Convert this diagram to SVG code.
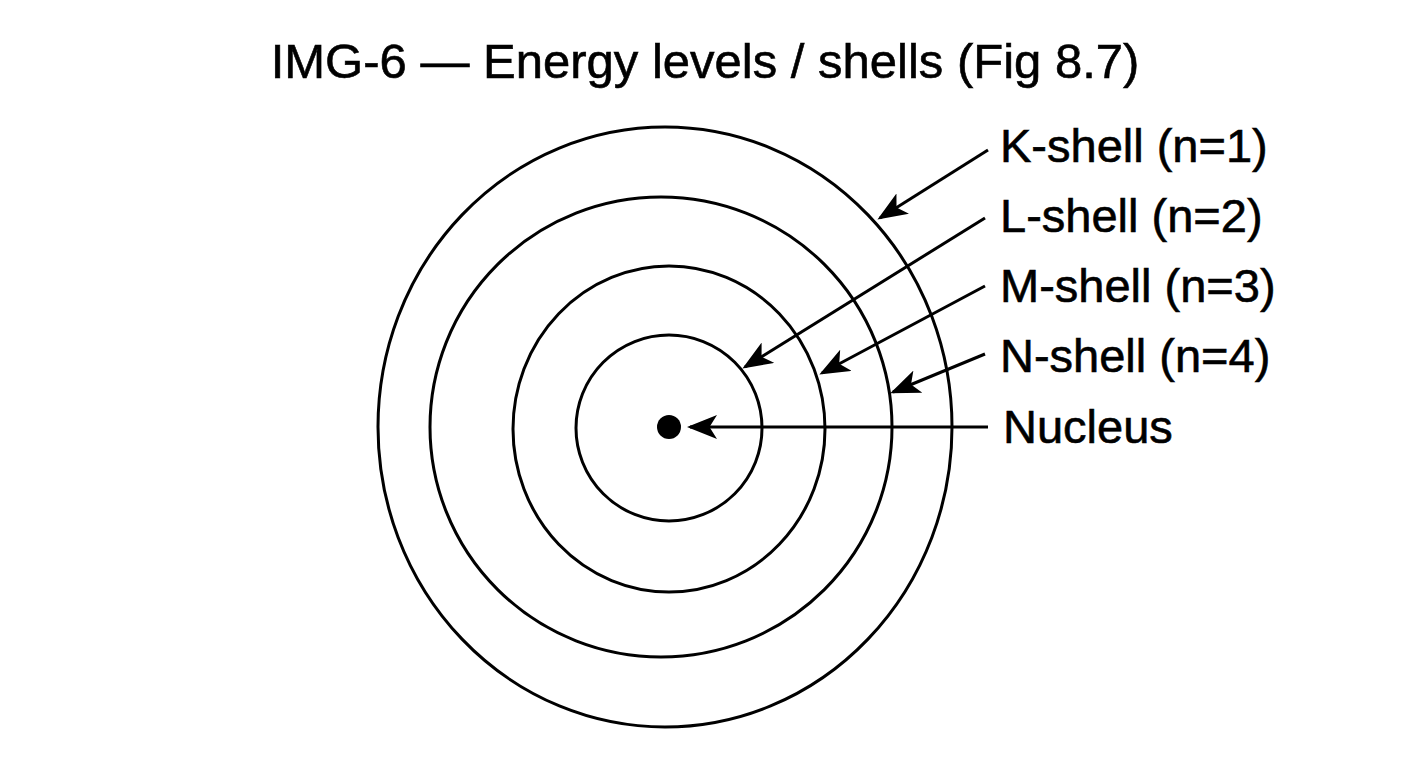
<svg xmlns="http://www.w3.org/2000/svg" width="1408" height="768" viewBox="0 0 1408 768">
<defs>
<style>
.s{fill:none;stroke:#000;stroke-width:3}
.t{font-family:"Liberation Sans",Arial,sans-serif;font-size:47px;fill:#000;stroke:#000;stroke-width:0.6}
.c{stroke:#000;stroke-width:3;fill:none;marker-end:url(#a)}
</style>
<marker id="a" markerWidth="10" markerHeight="8" refX="9" refY="4" orient="auto" markerUnits="strokeWidth">
<path d="M0,0 L10,4 L0,8 L2.5,4 Z" fill="#000"/>
</marker>
</defs>
<rect width="1408" height="768" fill="#fff"/>
<text x="705" y="78" text-anchor="middle" class="t" style="font-size:49px">IMG-6 — Energy levels / shells (Fig 8.7)</text>
<g id="shell-k"><ellipse class="s" cx="665" cy="427" rx="287" ry="300"/></g>
<g id="shell-l"><ellipse class="s" cx="661" cy="427" rx="231" ry="230"/></g>
<g id="shell-m"><ellipse class="s" cx="669" cy="429" rx="156" ry="163"/></g>
<g id="shell-n"><ellipse class="s" cx="669" cy="428" rx="93" ry="93"/></g>
<g id="nucleus"><circle cx="669" cy="427" r="12" fill="#000"/></g>
<g id="connectors">
<line class="c" x1="988" y1="150" x2="880" y2="218"/>
<line class="c" x1="985" y1="218" x2="745" y2="367"/>
<line class="c" x1="985" y1="286" x2="822" y2="373"/>
<line class="c" x1="985" y1="354" x2="893" y2="392"/>
<line class="c" x1="988" y1="427" x2="690" y2="427"/>
</g>
<g id="labels">
<text class="t" x="1000" y="162">K-shell (n=1)</text>
<text class="t" x="1000" y="232">L-shell (n=2)</text>
<text class="t" x="1000" y="302">M-shell (n=3)</text>
<text class="t" x="1000" y="372">N-shell (n=4)</text>
<text class="t" x="1003" y="443">Nucleus</text>
</g>
</svg>
